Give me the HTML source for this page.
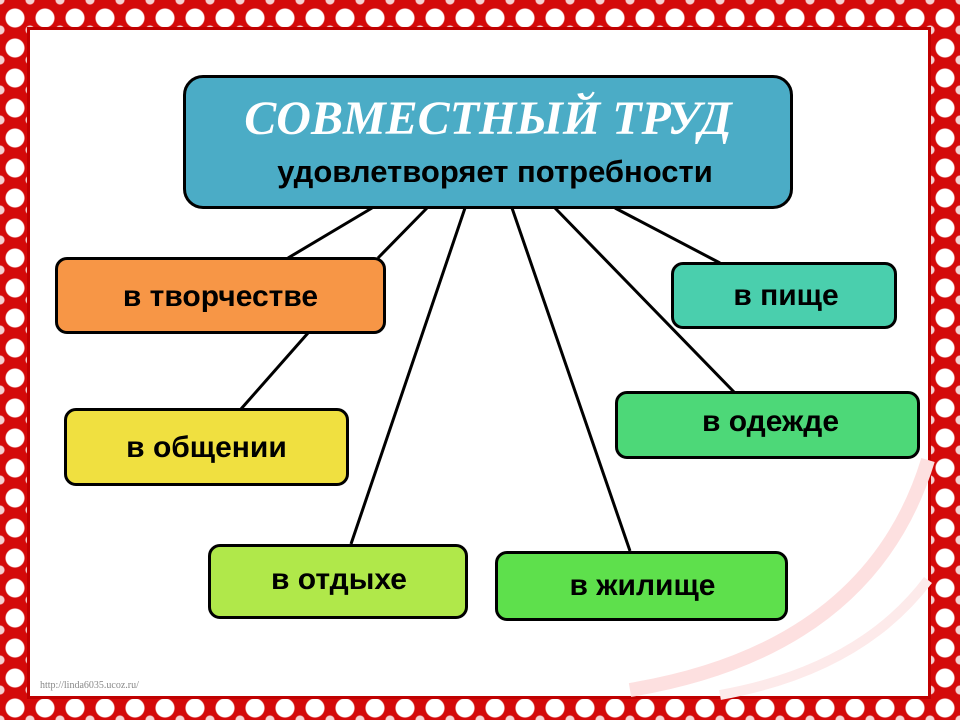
<!DOCTYPE html>
<html><head><meta charset="utf-8"><style>
html,body{margin:0;padding:0}
body{width:960px;height:720px;position:relative;overflow:hidden;background:#d40a0a;
background-image:radial-gradient(circle at 50% 60%, #fff 0 9px, transparent 10px),radial-gradient(circle at 50% 50%, #f4d0d0 0 4px, transparent 5px);
background-size:30px 30px,30px 30px;background-position:0 0,15px 15px}
.inner{position:absolute;left:30px;top:30px;width:898px;height:666px;background:#fff;outline:3px solid #c00000;outline-offset:0}
svg{position:absolute;left:0;top:0}
.b{position:absolute;border:3px solid #000;border-radius:12px;box-sizing:border-box;display:flex;align-items:center;justify-content:center;font-family:"Liberation Sans",sans-serif;font-weight:bold;font-size:30px;color:#000}
.url{position:absolute;left:40px;top:680px;font-family:"Liberation Serif",serif;font-size:10px;color:#888}
</style></head><body>
<div class="inner"></div>
<svg width="960" height="720">
<path d="M928 460 Q870 650 630 690" stroke="#fde0e0" stroke-width="14" fill="none"/>
<path d="M928 580 Q860 670 720 695" stroke="#fdeaea" stroke-width="10" fill="none"/>
<g stroke="#000" stroke-width="3">
<line x1="372" y1="208" x2="288" y2="258"/>
<line x1="427" y1="208" x2="378" y2="258"/>
<line x1="308" y1="333" x2="241" y2="409"/>
<line x1="465" y1="208" x2="351" y2="544"/>
<line x1="512" y1="208" x2="630" y2="551"/>
<line x1="555" y1="208" x2="734" y2="392"/>
<line x1="615" y1="208" x2="720" y2="263"/>
</g>
</svg>
<div class="b" style="left:183px;top:75px;width:610px;height:134px;background:#4bacc6;border-radius:20px;flex-direction:column;justify-content:flex-start">
<div style="font-family:'Liberation Serif',serif;font-style:italic;font-size:48px;color:#fff;margin-top:13px;line-height:55px">СОВМЕСТНЫЙ ТРУД</div>
<div style="font-size:31px;margin-top:8px;margin-left:14px">удовлетворяет потребности</div>
</div>
<div class="b" style="left:55px;top:257px;width:331px;height:77px;background:#f79646;padding-top:2px">в творчестве</div>
<div class="b" style="left:671px;top:262px;width:226px;height:67px;background:#4acfad;padding-left:4px">в пище</div>
<div class="b" style="left:64px;top:408px;width:285px;height:78px;background:#f0e040;padding-top:2px">в общении</div>
<div class="b" style="left:615px;top:391px;width:305px;height:68px;background:#4dd878;padding-left:6px;padding-bottom:6px">в одежде</div>
<div class="b" style="left:208px;top:544px;width:260px;height:75px;background:#b0e84a;padding-left:2px;padding-bottom:4px">в отдыхе</div>
<div class="b" style="left:495px;top:551px;width:293px;height:70px;background:#5ee04c;padding-left:2px">в жилище</div>
<div class="url">http://linda6035.ucoz.ru/</div>
</body></html>
